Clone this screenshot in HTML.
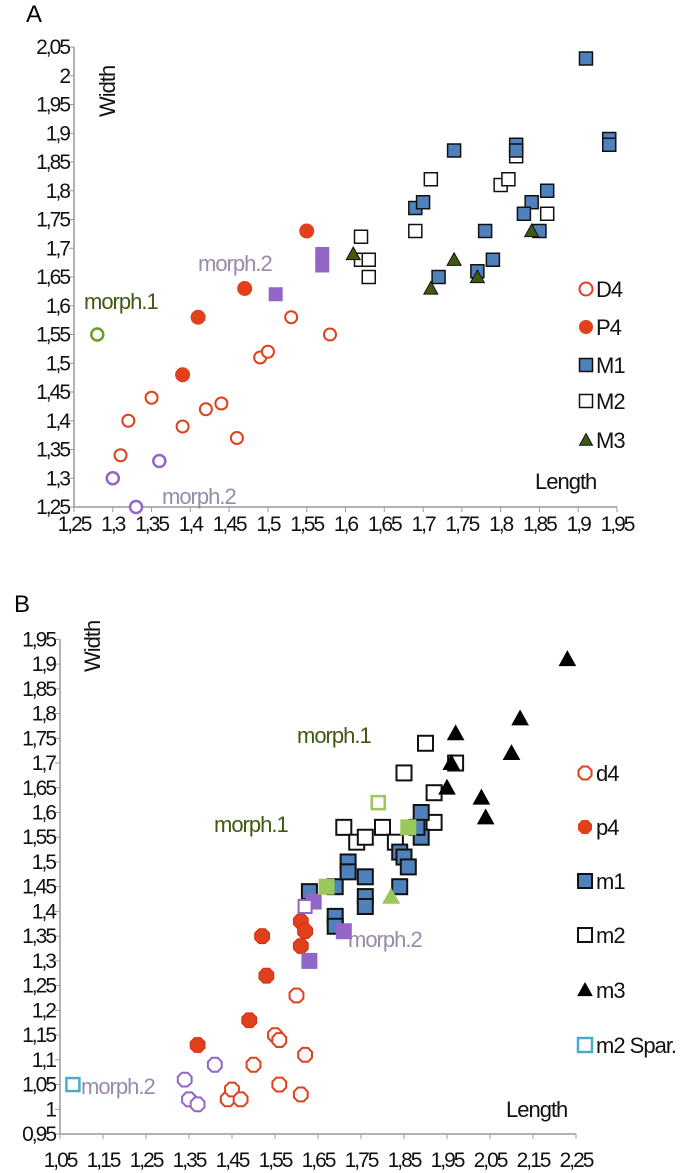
<!DOCTYPE html>
<html><head><meta charset="utf-8">
<style>
body{margin:0;background:#fff;}
svg{display:block;font-family:"Liberation Sans",sans-serif;}
.tk{font-size:21px;fill:#111;letter-spacing:-2px;}
.lb{letter-spacing:-1px;}
</style></head>
<body>
<svg id="chart" width="685" height="1173" viewBox="0 0 685 1173">
<text x="26" y="22" font-size="24">A</text>
<text x="14" y="612" font-size="24">B</text>
<g id="A"></g>
<g id="B"></g>
</svg>
<script>
// ---- Chart A data ----
const aD4x=[1.31,1.32,1.35,1.39,1.42,1.44,1.46,1.49,1.50,1.53,1.58];
const aD4y=[1.34,1.40,1.44,1.39,1.42,1.43,1.37,1.51,1.52,1.58,1.55];
const aP4x=[1.39,1.41,1.47,1.55];
const aP4y=[1.48,1.58,1.63,1.73];
const aM1x=[1.91,1.94,1.94,1.74,1.69,1.70,1.82,1.82,1.84,1.86,1.83,1.85,1.78,1.79,1.77,1.72];
const aM1y=[2.03,1.89,1.88,1.87,1.77,1.78,1.88,1.87,1.78,1.80,1.76,1.73,1.73,1.68,1.66,1.65];
const aM2x=[1.62,1.62,1.63,1.63,1.69,1.71,1.80,1.81,1.82,1.86,1.94];
const aM2y=[1.72,1.68,1.68,1.65,1.73,1.82,1.81,1.82,1.86,1.76,1.88];
const aM3x=[1.61,1.71,1.74,1.77,1.84];
const aM3y=[1.69,1.63,1.68,1.65,1.73];
const aMorph1x=[1.28], aMorph1y=[1.55];
const aMorph2Cx=[1.30,1.33,1.36], aMorph2Cy=[1.30,1.25,1.33];
const aMorph2Sx=[1.51,1.57,1.57], aMorph2Sy=[1.62,1.67,1.69];
const aXTicks=["1,25","1,3","1,35","1,4","1,45","1,5","1,55","1,6","1,65","1,7","1,75","1,8","1,85","1,9","1,95"];
const aYTicks=["1,25","1,3","1,35","1,4","1,45","1,5","1,55","1,6","1,65","1,7","1,75","1,8","1,85","1,9","1,95","2","2,05"];
// ---- Chart B data ----
const bD4x=[1.44,1.45,1.47,1.50,1.55,1.56,1.56,1.60,1.61,1.62];
const bD4y=[1.02,1.04,1.02,1.09,1.15,1.14,1.05,1.23,1.03,1.11];
const bP4x=[1.37,1.49,1.53,1.52,1.61,1.62,1.61];
const bP4y=[1.13,1.18,1.27,1.35,1.38,1.36,1.33];
const bM1x=[1.63,1.69,1.69,1.69,1.72,1.72,1.76,1.76,1.76,1.84,1.84,1.85,1.86,1.89,1.89,1.88];
const bM1y=[1.44,1.45,1.39,1.37,1.50,1.48,1.47,1.43,1.41,1.45,1.52,1.51,1.49,1.60,1.55,1.57];
const bM2x=[1.71,1.74,1.76,1.80,1.83,1.85,1.90,1.92,1.92,1.97];
const bM2y=[1.57,1.54,1.55,1.57,1.54,1.68,1.74,1.64,1.58,1.70];
const bM3x=[2.23,2.12,1.97,1.96,1.95,2.10,2.03,2.04];
const bM3y=[1.91,1.79,1.76,1.70,1.65,1.72,1.63,1.59];
const bSparX=[1.08], bSparY=[1.05];
const bM2hexX=[1.34,1.35,1.37,1.41], bM2hexY=[1.06,1.02,1.01,1.09];
const bPurpSx=[1.63,1.71,1.64], bPurpSy=[1.30,1.36,1.42];
const bPurpOx=[1.62], bPurpOy=[1.41];
const bGreenSx=[1.67,1.86], bGreenSy=[1.45,1.57];
const bGreenOx=[1.79], bGreenOy=[1.62];
const bGreenTx=[1.82], bGreenTy=[1.43];
const bXTicks=["1,05","1,15","1,25","1,35","1,45","1,55","1,65","1,75","1,85","1,95","2,05","2,15","2,25"];
const bYTicks=["0,95","1","1,05","1,1","1,15","1,2","1,25","1,3","1,35","1,4","1,45","1,5","1,55","1,6","1,65","1,7","1,75","1,8","1,85","1,9","1,95"];

const NS="http://www.w3.org/2000/svg";
function el(parent,tag,attrs,text){const e=document.createElementNS(NS,tag);for(const k in attrs)e.setAttribute(k,attrs[k]);if(text!==undefined)e.textContent=text;parent.appendChild(e);return e;}
function marker(g,type,cx,cy,s,fill,stroke,sw){
  let e;
  if(type==='circle')e=el(g,'circle',{cx:cx,cy:cy,r:s,fill:fill,stroke:stroke,'stroke-width':sw});
  else if(type==='square')e=el(g,'rect',{x:cx-s,y:cy-s,width:2*s,height:2*s,fill:fill,stroke:stroke,'stroke-width':sw});
  else if(type==='tri')e=el(g,'polygon',{points:`${cx},${cy-s} ${cx+s},${cy+s*0.8} ${cx-s},${cy+s*0.8}`,fill:fill,stroke:stroke,'stroke-width':sw});
  else {let p=[];for(let i=0;i<8;i++){const a=Math.PI/8+i*Math.PI/4;p.push((cx+s*Math.cos(a)).toFixed(1)+','+(cy+s*Math.sin(a)).toFixed(1));}
    e=el(g,'polygon',{points:p.join(' '),fill:fill,stroke:stroke,'stroke-width':sw});}
  return e;
}
function series(g,name,xs,ys,X,Y,type,s,fill,stroke,sw){
  for(let i=0;i<xs.length;i++){
    const m=marker(g,type,X(xs[i]),Y(ys[i]),s,fill,stroke,sw);
    
    
  }
}
function axes(g,x0,x1,y0,y1,xt,yt,xv0,xstep,yv0,ystep,X,Y,xlabY){
  const ax=el(g,'path',{d:`M${x0},${y1} V${y0} H${x1}`,fill:'none',stroke:'#999','stroke-width':1.5});
  
  
  xt.forEach((t,i)=>{const x=X(xv0+i*xstep);
    el(g,'line',{x1:x,x2:x,y1:y0,y2:y0+5,stroke:'#999'});
    const tx=el(g,'text',{x:x,y:xlabY,'text-anchor':'middle',class:'tk'},t);
    
    });
  yt.forEach((t,i)=>{const y=Y(yv0+i*ystep);
    el(g,'line',{x1:x0-5,x2:x0,y1:y,y2:y,stroke:'#999'});
    const tx=el(g,'text',{x:x0-5,y:y+7,'text-anchor':'end',class:'tk'},t);
    
    });
}
function label(g,name,x,y,txt,color,size,anchor){
  const t=el(g,'text',{x:x,y:y,fill:color,'font-size':size,'text-anchor':anchor||'start',class:'lb'},txt);
  
  
  return t;
}
const RED='#e0401c',BLUE='#4f81bd',OLIVE='#3e5a10',PURP='#9166c6',LAB='#9a8aa8',GRN='#9bc85a';
// Chart A
(function(){
  const g=document.getElementById('A');
  const X=v=>74+(v-1.25)/0.7*543, Y=v=>507-(v-1.25)/0.8*460;
  axes(g,74,617,507,47,aXTicks,aYTicks,1.25,0.05,1.25,0.05,X,Y,531);
  const w=label(g,'y-axis-title',0,0,'Width','#111',22);w.setAttribute('transform','translate(115,117) rotate(-90)');
  label(g,'x-axis-title',535,489,'Length','#111',22);
  label(g,'morph2-label-top',198,271,'morph.2',LAB,22);
  label(g,'morph1-label',84,309,'morph.1',OLIVE,22);
  label(g,'morph2-label-bottom',162,504,'morph.2',LAB,22);
  series(g,'d4',aD4x,aD4y,X,Y,'circle',6,'#fff',RED,2);
  series(g,'morph1',aMorph1x,aMorph1y,X,Y,'circle',6,'#fff','#6a9a2a',2.5);
  series(g,'morph2-circle',aMorph2Cx,aMorph2Cy,X,Y,'circle',6,'#fff',PURP,2.5);
  series(g,'p4',aP4x,aP4y,X,Y,'circle',7,RED,RED,1);
  series(g,'morph2-square',aMorph2Sx,aMorph2Sy,X,Y,'square',7,PURP,PURP,0);
  series(g,'m2',aM2x,aM2y,X,Y,'square',6.5,'#fff','#111',1.5);
  series(g,'m1',aM1x,aM1y,X,Y,'square',6.5,BLUE,'#111',1.5);
  series(g,'m3',aM3x,aM3y,X,Y,'tri',7,OLIVE,'#111',1);
  const leg=[['circle','#fff',RED,2,'D4'],['circle',RED,RED,1,'P4'],['square',BLUE,'#111',1.5,'M1'],['square','#fff','#111',1.5,'M2'],['tri',OLIVE,'#111',1,'M3']];
  const ly=[289,327,365,401,440];
  leg.forEach((l,i)=>{const m=marker(g,l[0],586,ly[i],6.5,l[1],l[2],l[3]);
    
    label(g,'legend-entry',596,ly[i]+8,l[4],'#111',22);});
})();
// Chart B
(function(){
  const g=document.getElementById('B');
  const X=v=>60+(v-1.05)/1.2*516, Y=v=>1134-(v-0.95)/1.0*494.6;
  axes(g,60,576,1134,639,bXTicks,bYTicks,1.05,0.1,0.95,0.05,X,Y,1167);
  const w=label(g,'y-axis-title',0,0,'Width','#111',22);w.setAttribute('transform','translate(100,672) rotate(-90)');
  label(g,'x-axis-title',506,1117,'Length','#111',22);
  label(g,'morph1-label-top',297,743,'morph.1',OLIVE,22);
  label(g,'morph1-label-lower',214,832,'morph.1',OLIVE,22);
  label(g,'morph2-label-right',348,947,'morph.2',LAB,22);
  label(g,'morph2-label-left',81,1094,'morph.2',LAB,22);
  series(g,'d4',bD4x,bD4y,X,Y,'hex',7.5,'#fff',RED,2);
  series(g,'morph2-hex',bM2hexX,bM2hexY,X,Y,'hex',7.5,'#fff',PURP,2);
  series(g,'p4',bP4x,bP4y,X,Y,'hex',8,RED,'#d03010',1);
  series(g,'m2',bM2x,bM2y,X,Y,'square',7.5,'#fff','#111',2);
  series(g,'m1',bM1x,bM1y,X,Y,'square',7.5,BLUE,'#111',2);
  series(g,'m3',bM3x,bM3y,X,Y,'tri',8,'#000','#000',1);
  series(g,'morph2-square',bPurpSx,bPurpSy,X,Y,'square',8,PURP,PURP,0);
  series(g,'morph2-open-square',bPurpOx,bPurpOy,X,Y,'square',6.5,'#fff',PURP,2);
  series(g,'morph1-square',bGreenSx,bGreenSy,X,Y,'square',8,GRN,GRN,0);
  series(g,'morph1-open-square',bGreenOx,bGreenOy,X,Y,'square',6.5,'#fff',GRN,2.5);
  series(g,'morph1-triangle',bGreenTx,bGreenTy,X,Y,'tri',9,GRN,GRN,0);
  series(g,'m2-spar',bSparX,bSparY,X,Y,'square',6.5,'#fff','#4bacc6',2.5);
  const leg=[['hex','#fff',RED,2,'d4'],['hex',RED,RED,1,'p4'],['square',BLUE,'#111',2,'m1'],['square','#fff','#111',2,'m2'],['tri','#000','#000',1,'m3'],['square','#fff','#4bacc6',2.5,'m2 Spar.']];
  const ly=[773,827,881,935,990,1045];
  leg.forEach((l,i)=>{const m=marker(g,l[0],585,ly[i],7,l[1],l[2],l[3]);
    
    label(g,'legend-entry',596,ly[i]+8,l[4],'#111',22);});
})();
</script>
</body></html>
